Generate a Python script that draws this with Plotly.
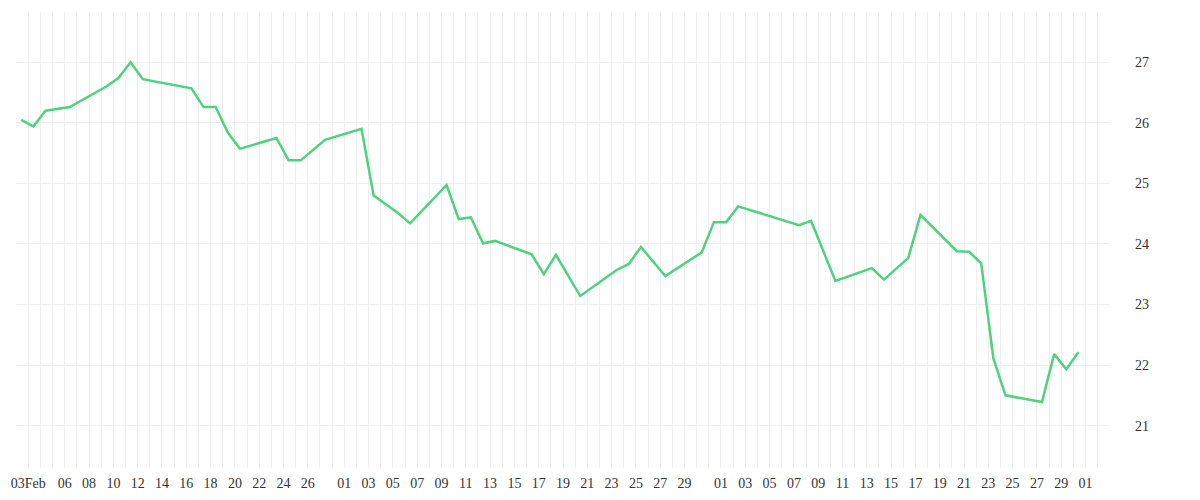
import pandas as pd
import plotly.graph_objects as go

# daily closes (2023, Feb 2 .. Apr 30)
dates = ['2023-02-02', '2023-02-03', '2023-02-04', '2023-02-06', '2023-02-09', '2023-02-10',
         '2023-02-11', '2023-02-12', '2023-02-16', '2023-02-17', '2023-02-18', '2023-02-19',
         '2023-02-20', '2023-02-23', '2023-02-24', '2023-02-25', '2023-02-27', '2023-03-02',
         '2023-03-03', '2023-03-05', '2023-03-06', '2023-03-09', '2023-03-10', '2023-03-11',
         '2023-03-12', '2023-03-13', '2023-03-16', '2023-03-17', '2023-03-18', '2023-03-20',
         '2023-03-23', '2023-03-24', '2023-03-25', '2023-03-27', '2023-03-30', '2023-03-31',
         '2023-04-01', '2023-04-02', '2023-04-07', '2023-04-08', '2023-04-10', '2023-04-13',
         '2023-04-14', '2023-04-16', '2023-04-17', '2023-04-20', '2023-04-21', '2023-04-22',
         '2023-04-23', '2023-04-24', '2023-04-27', '2023-04-28', '2023-04-29', '2023-04-30']
values = [26.05, 25.94, 26.20, 26.26, 26.60, 26.74,
          27.00, 26.72, 26.57, 26.26, 26.26, 25.84,
          25.57, 25.75, 25.38, 25.38, 25.72, 25.90,
          24.80, 24.51, 24.34, 24.97, 24.41, 24.44,
          24.01, 24.05, 23.83, 23.50, 23.82, 23.14,
          23.57, 23.67, 23.95, 23.47, 23.86, 24.36,
          24.36, 24.62, 24.31, 24.38, 23.39, 23.60,
          23.41, 23.77, 24.48, 23.88, 23.87, 23.68,
          22.11, 21.50, 21.39, 22.18, 21.93, 22.21]

tick_dates = ['2023-02-03', '2023-02-06', '2023-02-08', '2023-02-10', '2023-02-12', '2023-02-14',
              '2023-02-16', '2023-02-18', '2023-02-20', '2023-02-22', '2023-02-24', '2023-02-26',
              '2023-03-01', '2023-03-03', '2023-03-05', '2023-03-07', '2023-03-09', '2023-03-11',
              '2023-03-13', '2023-03-15', '2023-03-17', '2023-03-19', '2023-03-21', '2023-03-23',
              '2023-03-25', '2023-03-27', '2023-03-29',
              '2023-04-01', '2023-04-03', '2023-04-05', '2023-04-07', '2023-04-09', '2023-04-11',
              '2023-04-13', '2023-04-15', '2023-04-17', '2023-04-19', '2023-04-21', '2023-04-23',
              '2023-04-25', '2023-04-27', '2023-04-29', '2023-05-01']
tick_labels = ['03Feb', '06', '08', '10', '12', '14', '16', '18', '20', '22', '24', '26',
               '01', '03', '05', '07', '09', '11', '13', '15', '17', '19', '21', '23', '25', '27', '29',
               '01', '03', '05', '07', '09', '11', '13', '15', '17', '19', '21', '23', '25', '27', '29',
               '01']

# points sit a bit after midnight on the time axis
x = pd.to_datetime(dates) + pd.Timedelta(hours=10)

grid = '#efefef'
fig = go.Figure(go.Scatter(x=x, y=values, mode='lines',
                           line=dict(color='#4fd27e', width=2.5), hoverinfo='x+y'))

# page body has an 8px margin, so the margins here are trimmed by that
fig.update_layout(
    width=1200, height=500, template=None,
    plot_bgcolor='white', paper_bgcolor='white',
    margin=dict(l=8, r=98, t=4, b=40),
    showlegend=False,
    font=dict(family='Liberation Serif', size=14, color='#333333'),
    xaxis=dict(type='date', range=['2023-02-01 23:40', '2023-05-03 00:20'], automargin=False,
               tickmode='array', tickvals=tick_dates, ticktext=tick_labels,
               showgrid=True, gridcolor=grid, gridwidth=1,
               minor=dict(dtick=86400000, tick0='2023-02-02', showgrid=True,
                          gridcolor=grid, gridwidth=1),
               showline=False, zeroline=False, ticks='', ticklabelstandoff=5),
    yaxis=dict(side='right', range=[20.30, 27.83], dtick=1, tick0=0, automargin=False,
               showgrid=True, gridcolor=grid, gridwidth=1,
               showline=False, zeroline=False, ticks='',
               ticklabelstandoff=24),
)

fig.write_html('out.html')
